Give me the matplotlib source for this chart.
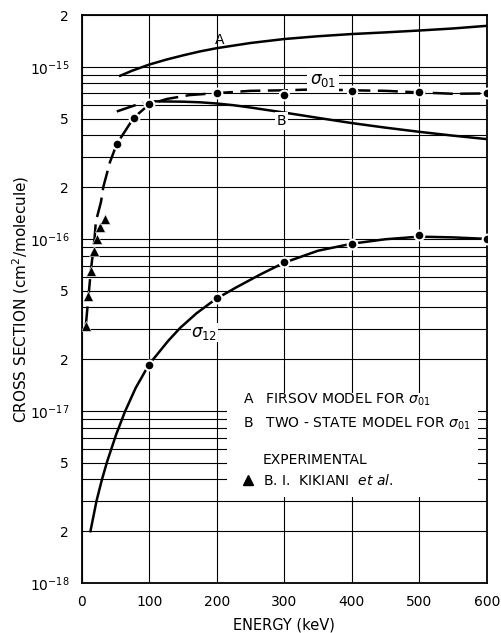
import matplotlib
matplotlib.use("Agg")
import matplotlib.pyplot as plt
from matplotlib.patches import Rectangle
from matplotlib.ticker import FixedLocator, NullFormatter

plt.rcParams['font.family'] = ['DejaVu Sans']
plt.rcParams['mathtext.default'] = 'regular'

# ---- data ----
# Curve A: Firsov model for sigma01
A_E = [57, 75, 100, 125, 150, 175, 200, 250, 300, 350, 400, 450, 500, 550, 600]
A_val = [8.87e-16, 9.5e-16, 1.03e-15, 1.1e-15, 1.165e-15, 1.228e-15, 1.283e-15, 1.375e-15,
         1.45e-15, 1.505e-15, 1.55e-15, 1.585e-15, 1.625e-15, 1.67e-15, 1.73e-15]

# Curve B: two-state model for sigma01
B_E = [108, 150, 175, 200, 225, 250, 300, 350, 400, 450, 500, 550, 600]
B_val = [6.3e-16, 6.27e-16, 6.22e-16, 6.12e-16, 5.98e-16, 5.8e-16, 5.42e-16, 5.05e-16,
         4.71e-16, 4.43e-16, 4.19e-16, 3.98e-16, 3.8e-16]
B_low_E = [52, 91]
B_low_val = [5.5e-16, 6.2e-16]

# sigma01 dashed curve
s01_E = [6, 10, 13.5, 17, 19, 21, 28.6, 32, 42, 52, 77, 100, 126, 160, 200, 250, 300,
         350, 400, 450, 500, 550, 600]
s01_val = [3.1e-17, 4.6e-17, 6.5e-17, 8.5e-17, 1.0e-16, 1.26e-16, 1.64e-16, 2.0e-16,
           2.8e-16, 3.56e-16, 5.05e-16, 6.05e-16, 6.5e-16, 6.85e-16, 7.03e-16, 7.25e-16,
           7.3e-16, 7.4e-16, 7.3e-16, 7.25e-16, 7.1e-16, 6.97e-16, 7.0e-16]
s01_pts_E = [52, 77, 100, 200, 300, 400, 500, 600]
s01_pts_val = [3.56e-16, 5.05e-16, 6.05e-16, 7.03e-16, 6.87e-16, 7.25e-16, 7.1e-16, 7.0e-16]

# sigma12 curve
s12_E = [13, 22, 30, 38, 51, 64, 80, 100, 111, 128, 146, 170, 190, 200, 230, 265, 300,
         350, 400, 450, 500, 550, 600]
s12_val = [2.0e-18, 3.0e-18, 3.99e-18, 5.12e-18, 7.28e-18, 9.88e-18, 1.36e-17, 1.87e-17,
           2.11e-17, 2.55e-17, 3.04e-17, 3.69e-17, 4.22e-17, 4.5e-17, 5.25e-17, 6.22e-17,
           7.27e-17, 8.53e-17, 9.37e-17, 9.95e-17, 1.03e-16, 1.02e-16, 1.0e-16]
s12_pts_E = [100, 200, 300, 400, 500, 600]
s12_pts_val = [1.85e-17, 4.54e-17, 7.35e-17, 9.39e-17, 1.06e-16, 1.0e-16]

# Experimental (Kikiani et al.)
exp_E = [6.4, 9.8, 13.3, 18.2, 22, 27, 34.5]
exp_val = [3.12e-17, 4.64e-17, 6.5e-17, 8.48e-17, 1.0e-16, 1.17e-16, 1.31e-16]

x_ticks = [0, 100, 200, 300, 400, 500, 600]
y_major = [1e-18, 2e-18, 5e-18, 1e-17, 2e-17, 5e-17, 1e-16, 2e-16, 5e-16, 1e-15, 2e-15]
y_labels = [r'$10^{-18}$', '2', '5', r'$10^{-17}$', '2', '5', r'$10^{-16}$', '2', '5',
            r'$10^{-15}$', '2']
y_minor = [k * 10.0 ** e for e in (-18, -17, -16) for k in (3, 4, 6, 7, 8, 9)]

fig = plt.figure(figsize=(5.02, 6.33), dpi=100)
ax = fig.add_axes([0.1627, 0.079, 0.8068, 0.8973])
ax.set_yscale('log')
ax.set_xlim(0, 600)
ax.set_ylim(1e-18, 2e-15)
ax.set_xticks(x_ticks)
ax.set_xticklabels([str(v) for v in x_ticks])
ax.yaxis.set_major_locator(FixedLocator(y_major))
ax.set_yticklabels(y_labels)
ax.yaxis.set_minor_locator(FixedLocator(y_minor))
ax.yaxis.set_minor_formatter(NullFormatter())
ax.tick_params(which='both', length=0, labelsize=10)
ax.tick_params(axis='y', pad=9)
ax.tick_params(axis='x', pad=9)
ax.set_axisbelow(True)
ax.grid(True, which='both', color='black', linewidth=0.8)
for s in ax.spines.values():
    s.set_linewidth(1.3)

# white legend region covering the grid
ax.add_patch(Rectangle((0.359, 0.1514), 0.6195, 0.1831, transform=ax.transAxes,
                       facecolor='white', edgecolor='none', zorder=1))

lw = 1.8
ax.plot(A_E, A_val, color='black', lw=lw, zorder=3)
ax.plot(B_E, B_val, color='black', lw=lw, zorder=3)
ax.plot(B_low_E, B_low_val, color='black', lw=lw, zorder=3, dashes=(8, 3))
ax.plot(s01_E, s01_val, color='black', lw=lw, zorder=3, dashes=(8, 3))
ax.plot(s12_E, s12_val, color='black', lw=lw, zorder=3)
ax.plot(s01_pts_E, s01_pts_val, 'o', color='black', ms=7, mec='white', mew=1.5, zorder=4)
ax.plot(s12_pts_E, s12_pts_val, 'o', color='black', ms=7, mec='white', mew=1.5, zorder=4)
ax.plot(exp_E, exp_val, '^', color='black', ms=6.5, mec='white', mew=0.4, zorder=4)

wb = dict(facecolor='white', edgecolor='none', pad=1.5)
ax.text(205, 1.36e-15, 'A', fontsize=10, ha='center', va='baseline', zorder=5)
ax.text(296, 4.85e-16, 'B', fontsize=10, ha='center', va='center', zorder=5, bbox=wb)
ax.text(357, 8.4e-16, r'$\mathit{\sigma}_{01}$', fontsize=12, ha='center', va='center',
        zorder=5, bbox=dict(facecolor='white', edgecolor='none', pad=2))
ax.text(182, 2.85e-17, r'$\mathit{\sigma}_{12}$', fontsize=12, ha='center', va='center',
        zorder=5, bbox=dict(facecolor='white', edgecolor='none', pad=0.5))

fs = 10
ax.text(0.398, 0.3234, r'A   FIRSOV MODEL FOR $\mathit{\sigma}_{01}$', transform=ax.transAxes,
        fontsize=fs, va='center', ha='left', zorder=5)
ax.text(0.398, 0.280, r'B   TWO - STATE MODEL FOR $\mathit{\sigma}_{01}$', transform=ax.transAxes,
        fontsize=fs, va='center', ha='left', zorder=5)
ax.text(0.4477, 0.2165, 'EXPERIMENTAL', transform=ax.transAxes,
        fontsize=fs, va='center', ha='left', zorder=5)
ax.plot([0.4106], [0.181], '^', color='black', ms=6.5, transform=ax.transAxes, zorder=5)
ax.text(0.4477, 0.181, r'B. I.  KIKIANI  $\mathit{et\ al.}$', transform=ax.transAxes,
        fontsize=fs, va='center', ha='left', zorder=5)

ax.set_xlabel('ENERGY (keV)', fontsize=10.5)
ax.set_ylabel(r'CROSS SECTION (cm$^2$/molecule)', fontsize=11)
ax.xaxis.set_label_coords(0.5, -0.061)
ax.yaxis.set_label_coords(-0.125, 0.5)

fig.savefig('out.png', dpi=100)
